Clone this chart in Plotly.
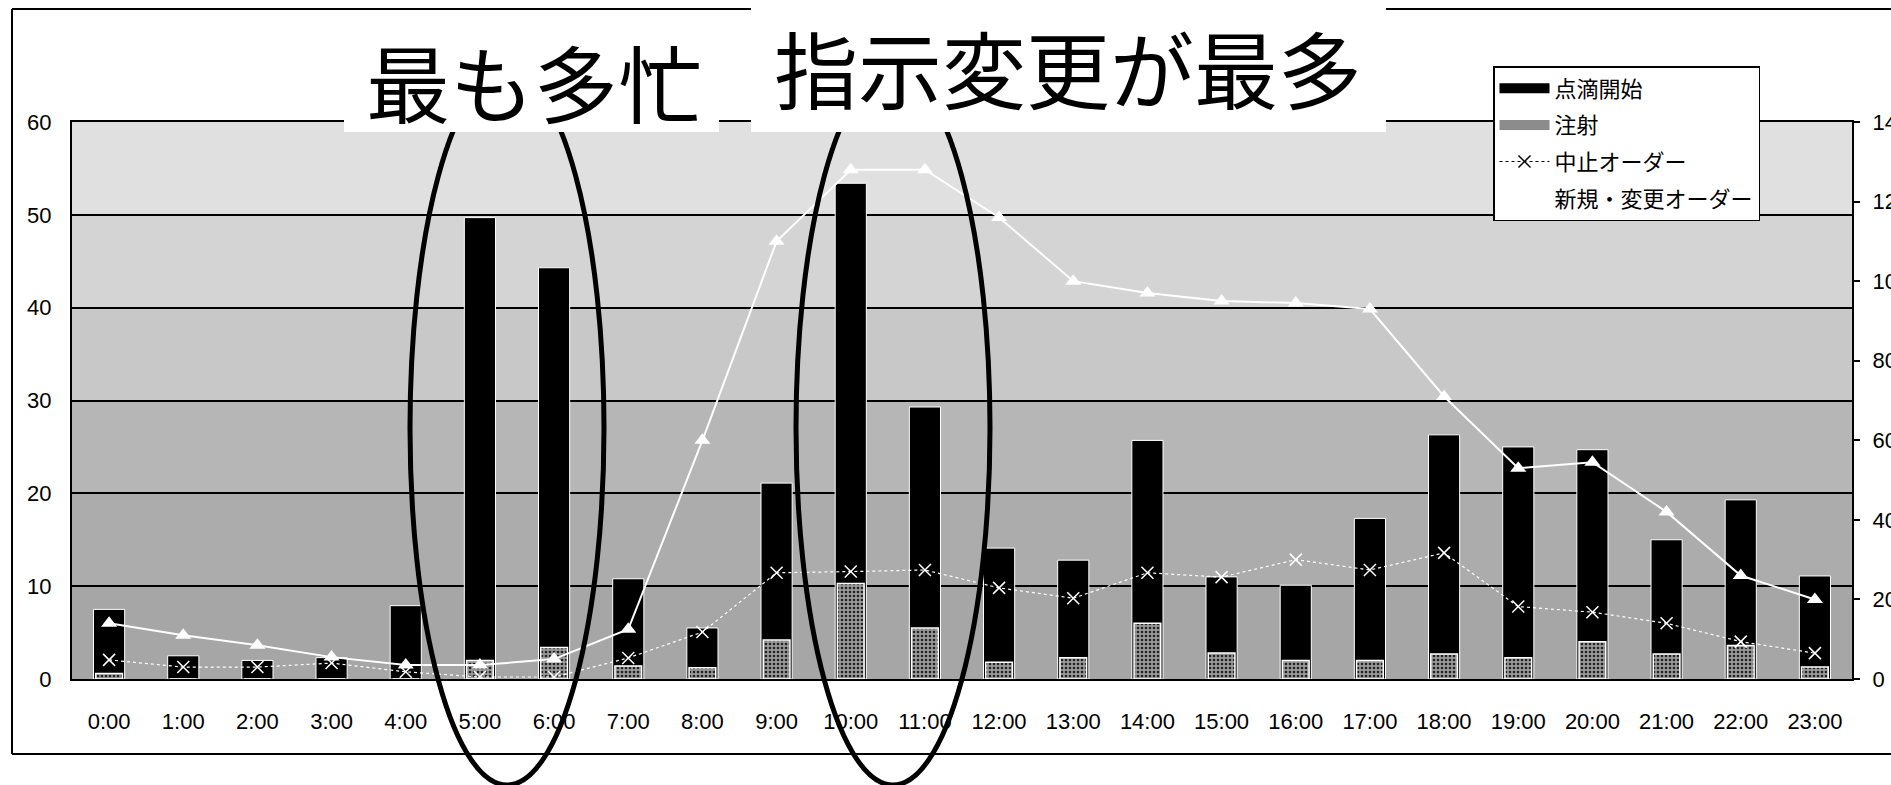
import plotly.graph_objects as go

# hourly categories
hours = [f"{h}:00" for h in range(24)]

# left axis (counts): IV starts and injections
drip_start = [7.5, 2.5, 2.0, 2.3, 7.9, 49.7, 44.3, 10.8, 5.5, 21.1, 53.4, 29.3,
              14.1, 12.8, 25.7, 11.0, 10.1, 17.3, 26.3, 25.0, 24.7, 15.0, 19.3, 11.1]
injection = [0.6, 0, 0, 0, 0, 2.0, 3.4, 1.4, 1.2, 4.2, 10.3, 5.5,
             1.8, 2.3, 6.0, 2.8, 2.0, 2.0, 2.7, 2.3, 4.0, 2.7, 3.6, 1.3]

# right axis (orders)
cancel_orders = [4.8, 3.0, 3.0, 4.0, 1.8, 0.5, 0.5, 5.3, 11.8, 26.7, 27.0, 27.4,
                 22.9, 20.3, 26.7, 25.6, 30.0, 27.4, 31.7, 18.2, 16.8, 14.0, 9.4, 6.5]
new_change_orders = [14, 11, 8.5, 5.5, 3.5, 3.5, 5, 12.5, 60, 110, 128, 128,
                     116, 100, 97, 95, 94.5, 93, 71, 53, 54.5, 42, 26, 20]

left_ticks = [0, 10, 20, 30, 40, 50, 60]
right_ticks = [0, 20, 40, 60, 80, 100, 120, 140]

W, H = 1891, 785
PL, PR, PT, PB = 72, 1852, 122, 679   # plot area in pixels


def px(x):
    return (x - PL) / (PR - PL)


def py(y):
    return (PB - y) / (PB - PT)


NUM_FONT = "Liberation Sans Narrow, Arial Narrow, Liberation Sans, sans-serif"
JP_FONT = "Noto Sans CJK JP, sans-serif"

fig = go.Figure()

fig.add_trace(go.Bar(
    x=hours, y=drip_start, name="点滴開始", width=0.42, showlegend=False,
    marker=dict(color="black", line=dict(color="white", width=1)),
))
fig.add_trace(go.Bar(
    x=hours, y=injection, name="注射", width=0.36, showlegend=False,
    marker=dict(color="#7a7a7a", line=dict(color="white", width=1.5),
                pattern=dict(shape=".", fgcolor="#222222", bgcolor="#9a9a9a",
                             size=4, solidity=0.35)),
))
fig.add_trace(go.Scatter(
    x=hours, y=cancel_orders, yaxis="y2", mode="lines+markers",
    name="中止オーダー", showlegend=False,
    line=dict(color="white", width=1.2, dash="dot"),
    marker=dict(symbol="x-thin", size=12, line=dict(color="white", width=1.5)),
))
fig.add_trace(go.Scatter(
    x=hours, y=new_change_orders, yaxis="y2", mode="lines+markers",
    name="新規・変更オーダー", showlegend=False,
    line=dict(color="white", width=2),
    marker=dict(symbol="triangle-up", size=14, color="white"),
))

# legend keys (wide swatches like the original key box)
legend_keys = [
    ("点滴開始", dict(color="black", width=14), None, "lines"),
    ("注射", dict(color="#8c8c8c", width=12), None, "lines"),
    ("中止オーダー", dict(color="black", width=1.2, dash="dot"),
     dict(symbol="x-thin", size=12, line=dict(color="black", width=1.5)), "lines+markers"),
    ("新規・変更オーダー", dict(color="white", width=2),
     dict(symbol="triangle-up", size=12, color="white"), "lines+markers"),
]
for i, (nm, ln, mk, mode) in enumerate(legend_keys):
    fig.add_trace(go.Scatter(
        x=[None], y=[None], mode=mode, name=nm, line=ln,
        marker=mk if mk else dict(size=1), legendgroup=f"g{i}", legendrank=i + 1,
    ))

shapes = []
# shaded plot background, denser towards the bottom
bands = [(0, 10, "#a6a6a6"), (10, 20, "#acacac"), (20, 30, "#b6b6b6"),
         (30, 40, "#c8c8c8"), (40, 50, "#d4d4d4"), (50, 60, "#e0e0e0")]
for lo, hi, col in bands:
    shapes.append(dict(type="rect", xref="paper", yref="y", x0=0, x1=1, y0=lo, y1=hi,
                       fillcolor=col, line=dict(width=0), layer="below"))

# outer chart frame
shapes.append(dict(type="line", xref="paper", yref="paper",
                   x0=px(12), x1=px(12), y0=py(9), y1=py(754),
                   line=dict(color="black", width=2)))
shapes.append(dict(type="line", xref="paper", yref="paper",
                   x0=px(12), x1=px(W + 5), y0=py(9), y1=py(9),
                   line=dict(color="black", width=2)))
shapes.append(dict(type="line", xref="paper", yref="paper",
                   x0=px(12), x1=px(W + 5), y0=py(754), y1=py(754),
                   line=dict(color="black", width=2)))

# highlight ellipses
for cx in (507, 893):
    shapes.append(dict(type="circle", xref="paper", yref="paper",
                       x0=px(cx - 97), x1=px(cx + 97), y0=py(71), y1=py(785),
                       line=dict(color="black", width=5)))

# white boxes behind the headline texts
shapes.append(dict(type="rect", xref="paper", yref="paper",
                   x0=px(344), x1=px(719), y0=py(22), y1=py(132),
                   fillcolor="white", line=dict(width=0)))
shapes.append(dict(type="rect", xref="paper", yref="paper",
                   x0=px(751), x1=px(1386), y0=py(-5), y1=py(132),
                   fillcolor="white", line=dict(width=0)))

annotations = [
    dict(text="最も多忙", xref="paper", yref="paper", x=px(534), y=py(80),
         xanchor="center", yanchor="middle", showarrow=False,
         font=dict(family=JP_FONT, size=84, color="black")),
    dict(text="指示変更が最多", xref="paper", yref="paper", x=px(1068), y=py(66),
         xanchor="center", yanchor="middle", showarrow=False,
         font=dict(family=JP_FONT, size=84, color="black")),
]

fig.update_layout(
    template="none",
    width=W, height=H,
    margin=dict(l=PL, r=W - PR, t=PT, b=H - PB, autoexpand=False),
    paper_bgcolor="white", plot_bgcolor="white",
    barmode="overlay", bargap=0.5,
    shapes=shapes, annotations=annotations,
    xaxis=dict(type="category", range=[-0.5, 23.5], showgrid=False,
               showline=True, linecolor="black", linewidth=2, mirror=True,
               ticks="", ticklabelstandoff=22, automargin=False,
               tickfont=dict(family=NUM_FONT, size=22, color="black")),
    yaxis=dict(range=[0, 60], tickvals=left_ticks, showgrid=True,
               gridcolor="black", gridwidth=1.5, zeroline=False,
               showline=True, linecolor="black", linewidth=2, mirror=True,
               ticks="", ticklabelstandoff=14, automargin=False,
               tickfont=dict(family=NUM_FONT, size=22, color="black")),
    yaxis2=dict(range=[0, 140], tickvals=right_ticks, overlaying="y", side="right",
                showgrid=False, zeroline=False, showline=False,
                ticks="outside", ticklen=7, tickcolor="black", tickwidth=1.5,
                ticklabelstandoff=8, automargin=False,
                tickfont=dict(family=NUM_FONT, size=22, color="black")),
    legend=dict(x=px(1493), y=py(66), xanchor="left", yanchor="top",
                bgcolor="white", bordercolor="black", borderwidth=1.5,
                font=dict(family=JP_FONT, size=22, color="black"),
                tracegroupgap=5, itemwidth=50, traceorder="grouped"),
    showlegend=True,
)

fig.write_html("out.html")
